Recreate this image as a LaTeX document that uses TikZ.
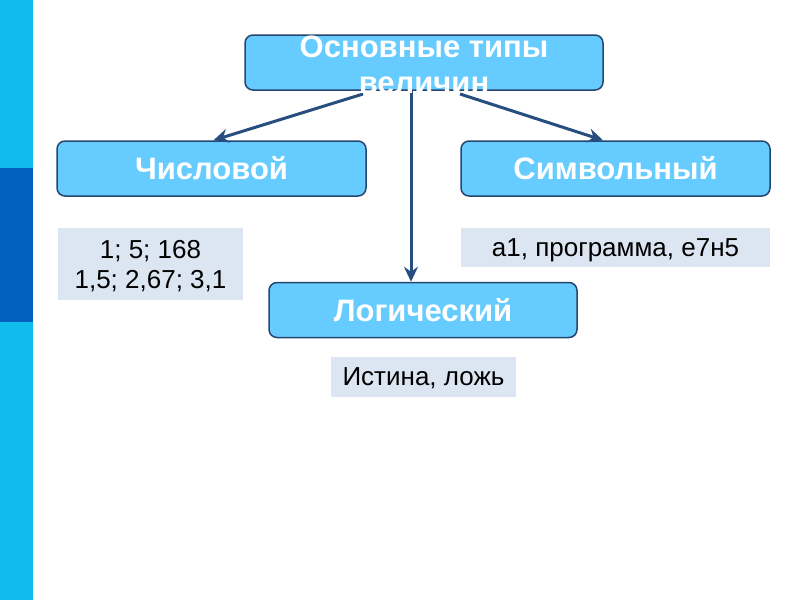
\documentclass[tikz,border=0pt]{standalone}
\usepackage{fontspec}
\setmainfont{Liberation Sans}
\usetikzlibrary{arrows.meta,calc}
\definecolor{stripe}{RGB}{16,188,236}
\definecolor{stripedark}{RGB}{0,98,190}
\definecolor{boxfill}{RGB}{102,204,255}
\definecolor{boxline}{RGB}{38,70,112}
\definecolor{arrowc}{RGB}{40,78,128}
\definecolor{grayfill}{RGB}{220,230,242}
\tikzset{
  typebox/.style={draw=boxline, line width=1.5pt, fill=boxfill, rounded corners=8pt,
    minimum width=309pt, minimum height=55pt, inner sep=0pt,
    text=white, font=\fontsize{31}{36}\selectfont\bfseries},
  valbox/.style={fill=grayfill, inner sep=0pt, text=black, text depth=0pt,
    font=\fontsize{26}{30}\selectfont, align=center},
  conn/.style={draw=arrowc, line width=3pt, -{Stealth[length=15pt,width=14pt,inset=5pt]}}
}
\begin{document}
\begin{tikzpicture}[x=1pt,y=-1pt]
\useasboundingbox (0,0) rectangle (800,600);
\fill[white] (0,0) rectangle (800,600);
\fill[stripe] (0,0) rectangle (33,600);
\fill[stripedark] (0,168) rectangle (33,322);
% boxes
\node[typebox, minimum width=358pt] (top) at (424,62.5) {};
\node[typebox] (num) at (211.5,168.5) {Числовой};
\node[typebox] (sym) at (615.5,168.5) {Символьный};
\node[typebox, minimum width=308pt] (log) at (423,310) {Логический};
% values
\node[valbox, minimum width=185pt, minimum height=72pt] (numv) at (150.5,264) {1; 5; 168\\1,5; 2,67; 3,1};
\node[valbox, minimum width=309pt, minimum height=39pt] (symv) at (615.5,247.5) {а1, программа, е7н5};
\node[valbox, minimum width=185pt, minimum height=40pt] (logv) at (423.5,377) {Истина, ложь};
% connectors
\coordinate (sL) at (363,94);
\coordinate (sM) at (411,91);
\coordinate (sR) at (460,94);
\draw[conn] (sL) -- ($(num.north)+(2,0)$);
\draw[conn] (sR) -- ($(sym.north)+(-12.5,0)$);
\draw[conn] (sM) -- ($(log.north)+(-12,0)$);
% title text (overflows the box)
\node[text=white, font=\fontsize{31}{36}\selectfont\bfseries, align=center, inner sep=0pt] (toptext) at (424,64.5) {Основные типы\\величин};
\end{tikzpicture}
\end{document}
